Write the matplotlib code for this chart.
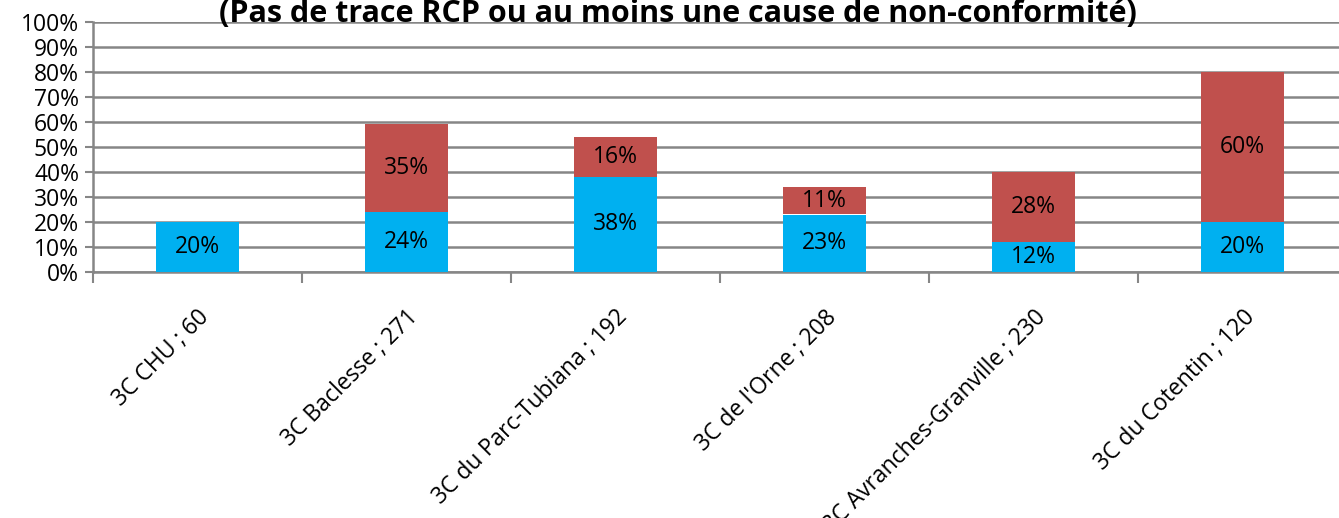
import numpy as np
import matplotlib
matplotlib.use("Agg")
import matplotlib.pyplot as plt
from matplotlib.ticker import PercentFormatter

# Donnees
centres = ['3C CHU ; 60', '3C Baclesse ; 271', '3C du Parc-Tubiana ; 192',
           "3C de l'Orne ; 208", '3C Avranches-Granville ; 230', '3C du Cotentin ; 120']
pas_de_trace = [20, 24, 38, 23, 12, 20]
non_conforme = [0, 35, 16, 11, 28, 60]

titre = "(Pas de trace RCP ou au moins une cause de non-conformité)"

plt.rcParams['font.family'] = ['Open Sans', 'DejaVu Sans']
gris = '#868686'
bleu = '#00B0F0'
rouge = '#C0504D'

fig = plt.figure(figsize=(13.39, 5.18), dpi=100)
ax = fig.add_axes([93 / 1339, 1 - 272 / 518, (1347 - 93) / 1339, 250 / 518])

x = np.arange(len(centres))
ax.bar(x, pas_de_trace, width=0.4, color=bleu, zorder=3)
ax.bar(x, non_conforme, width=0.4, bottom=pas_de_trace, color=rouge, zorder=3)

# Etiquettes de donnees
for i in range(len(centres)):
    if pas_de_trace[i] > 0:
        ax.text(x[i], pas_de_trace[i] / 2, f"{pas_de_trace[i]}%", ha='center', va='center',
                fontsize=16.5, zorder=4)
    if non_conforme[i] > 0:
        ax.text(x[i], pas_de_trace[i] + non_conforme[i] / 2, f"{non_conforme[i]}%",
                ha='center', va='center', fontsize=16.5, zorder=4)

ax.set_xlim(-0.5, len(centres) - 0.5)
ax.set_ylim(0, 100)
ax.set_yticks(np.arange(0, 101, 10))
ax.yaxis.set_major_formatter(PercentFormatter(decimals=0))
ax.grid(axis='y', color=gris, linewidth=1.8, zorder=0)

for s in ['top', 'right']:
    ax.spines[s].set_visible(False)
for s in ['left', 'bottom']:
    ax.spines[s].set_color(gris)
    ax.spines[s].set_linewidth(1.8)

ax.tick_params(axis='y', length=6, width=1.5, color=gris, labelsize=16.5, pad=4)

# graduations entre les categories
ax.set_xticks(np.arange(len(centres)) - 0.5, minor=True)
ax.tick_params(axis='x', which='minor', length=8, width=1.5, color=gris)
ax.set_xticks(x)
ax.set_xticklabels(centres, rotation=45, ha='right', rotation_mode='anchor', fontsize=16.5)
ax.tick_params(axis='x', which='major', length=0, pad=24)

fig.text(678 / 1339, 1 - 22 / 518, titre, ha='center', va='baseline',
         fontsize=22, fontweight='bold')

fig.savefig('out.png', dpi=100)
